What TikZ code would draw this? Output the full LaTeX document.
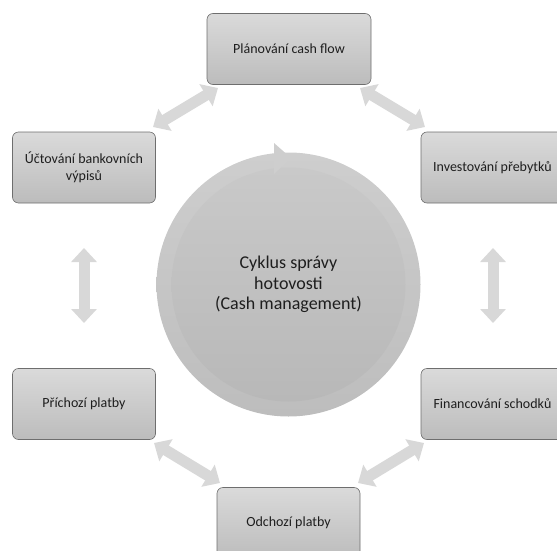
\documentclass[tikz,border=0pt]{standalone}
\usepackage{fontspec}
\setmainfont{Carlito}
\usetikzlibrary{arrows.meta}
\definecolor{boxtop}{HTML}{DADADA}
\definecolor{boxbot}{HTML}{BCBCBC}
\definecolor{boxline}{HTML}{6E6E6E}
\definecolor{arr}{HTML}{D8D8D8}
\definecolor{txt}{HTML}{1E1E1E}
\definecolor{ringtop}{HTML}{CECECE}
\definecolor{ringbot}{HTML}{BDBDBD}
\definecolor{coretop}{HTML}{C9C9C9}
\definecolor{corebot}{HTML}{B8B8B8}
\begin{document}
\begin{tikzpicture}[x=1pt,y=-1pt,
  box/.style={draw=boxline, line width=0.6pt, rounded corners=6pt,
    top color=boxtop, bottom color=boxbot, minimum width=143pt,
    minimum height=71pt, align=center, text=txt, inner sep=0pt,
    font=\fontsize{14}{17}\selectfont},
  link/.style={draw=arr, line width=11pt,
    {Triangle[width=25pt,length=14pt]}-{Triangle[width=25pt,length=14pt]}},
  ring/.style={circle, inner sep=0pt, top color=ringtop, bottom color=ringbot},
  core/.style={circle, inner sep=0pt, top color=coretop, bottom color=corebot,
    align=center, text=txt, font=\fontsize{18}{20.5}\selectfont}]
\useasboundingbox (0,0) rectangle (557,551);
\clip (0,0) rectangle (557,551);
% central cycle
\node[ring, minimum size=264pt] (cyc) at (288.5,284.5) {};
\node[core, minimum size=234pt] (core) at (cyc) {Cyklus správy\\hotovosti\\(Cash management)};
\coordinate (t1) at (274,143);
\coordinate (t2) at (291,158);
\coordinate (t3) at (274,174);
\fill[ringtop] (t1) -- (t2) -- (t3) -- cycle;
% boxes
\node[box, minimum width=164pt] (plan) at (289,49) {Plánování cash flow};
\node[box] (inv) at (492.5,167.5) {Investování přebytků};
\node[box] (fin) at (492.5,404) {Financování schodků};
\node[box] (odch) at (288.5,523) {Odchozí platby};
\node[box] (prich) at (84,404) {Příchozí platby};
\node[box] (uct) at (84,167.5) {Účtování bankovních\\výpisů};
% connectors
\coordinate (a1) at (153,127); \coordinate (a2) at (218,88);
\coordinate (b1) at (360,88);  \coordinate (b2) at (425,127);
\coordinate (c1) at (493,248); \coordinate (c2) at (493,323);
\coordinate (d1) at (424,443); \coordinate (d2) at (358,483);
\coordinate (e1) at (220,483); \coordinate (e2) at (154,443);
\coordinate (f1) at (84,323);  \coordinate (f2) at (84,248);
\draw[link] (a1) -- (a2);
\draw[link] (b1) -- (b2);
\draw[link] (c1) -- (c2);
\draw[link] (d1) -- (d2);
\draw[link] (e1) -- (e2);
\draw[link] (f1) -- (f2);
\end{tikzpicture}
\end{document}
